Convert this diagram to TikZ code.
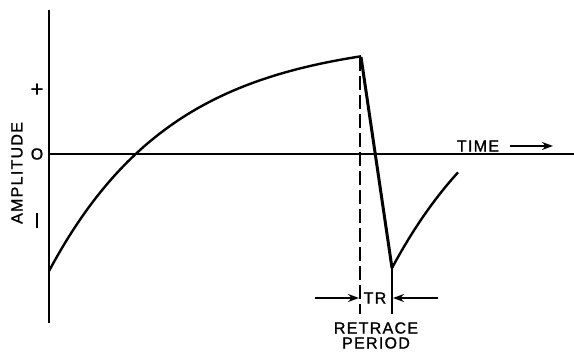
\documentclass[tikz,border=0pt]{standalone}
\usepackage{fontspec}
\setmainfont{Liberation Sans}
\newfontfamily\lbl[LetterSpace=8,FakeBold=1.2]{Liberation Sans}
\usetikzlibrary{arrows.meta}
\begin{document}
\begin{tikzpicture}[x=1pt,y=-1pt,
  axis/.style={line width=1.6pt},
  curve/.style={line width=2.4pt},
  lbltext/.style={font=\lbl\fontsize{16}{18}\selectfont, inner sep=0pt},
  dim/.style={line width=1.4pt,-{Stealth[length=11pt,width=8pt]}}]
\useasboundingbox (0,0) rectangle (574,353);
% axes
\coordinate (vt) at (49,10);
\coordinate (vb) at (49,323);
\coordinate (h0) at (49,154);
\coordinate (h1) at (574,154);
\draw[axis] (vt) -- (vb);
\draw[line width=1.2pt] (h0) -- (h1);
% main curve
\draw[curve,line join=round] plot[domain=0:312,samples=80] ({49+\x},{271-234*(1-exp(-0.008*\x))});
\coordinate (peak) at (361,57);
\coordinate (bot) at (392,268);
\draw[line width=3pt,line join=round] (peak) -- (bot);
\draw[curve] plot[domain=0:66,samples=30] ({392+\x},{268-233.2*(1-exp(-0.008*\x))});
% retrace markers
\coordinate (d1) at (360,314);
\coordinate (d2) at (392,314);
\draw[line width=1.8pt,dash pattern=on 14pt off 5pt] (360,57) -- (d1);
\draw[line width=1.6pt] (bot) -- (d2);
\node[lbltext] (tr) at (375,298) {TR};
\coordinate (al) at (315,298);
\coordinate (ar) at (438,298);
\draw[dim] (al) -- (359,298);
\draw[dim] (ar) -- (393,298);
\node[lbltext] (ret) at (376,328) {RETRACE};
\node[lbltext] (per) at (376,343) {PERIOD};
% labels
\node[lbltext,rotate=90] (amp) at (17,173) {AMPLITUDE};
\node[font=\lbl\fontsize{22}{22}\selectfont, inner sep=0pt] (plus) at (37,90) {+};
\node[lbltext] (zero) at (37,154) {O};
\draw[line width=1.6pt] (37,213) -- (37,228);
\node[lbltext] (time) at (478,146) {TIME};
\coordinate (ta) at (510,146);
\coordinate (tb) at (553,146);
\draw[dim] (ta) -- (tb);
\end{tikzpicture}
\end{document}
